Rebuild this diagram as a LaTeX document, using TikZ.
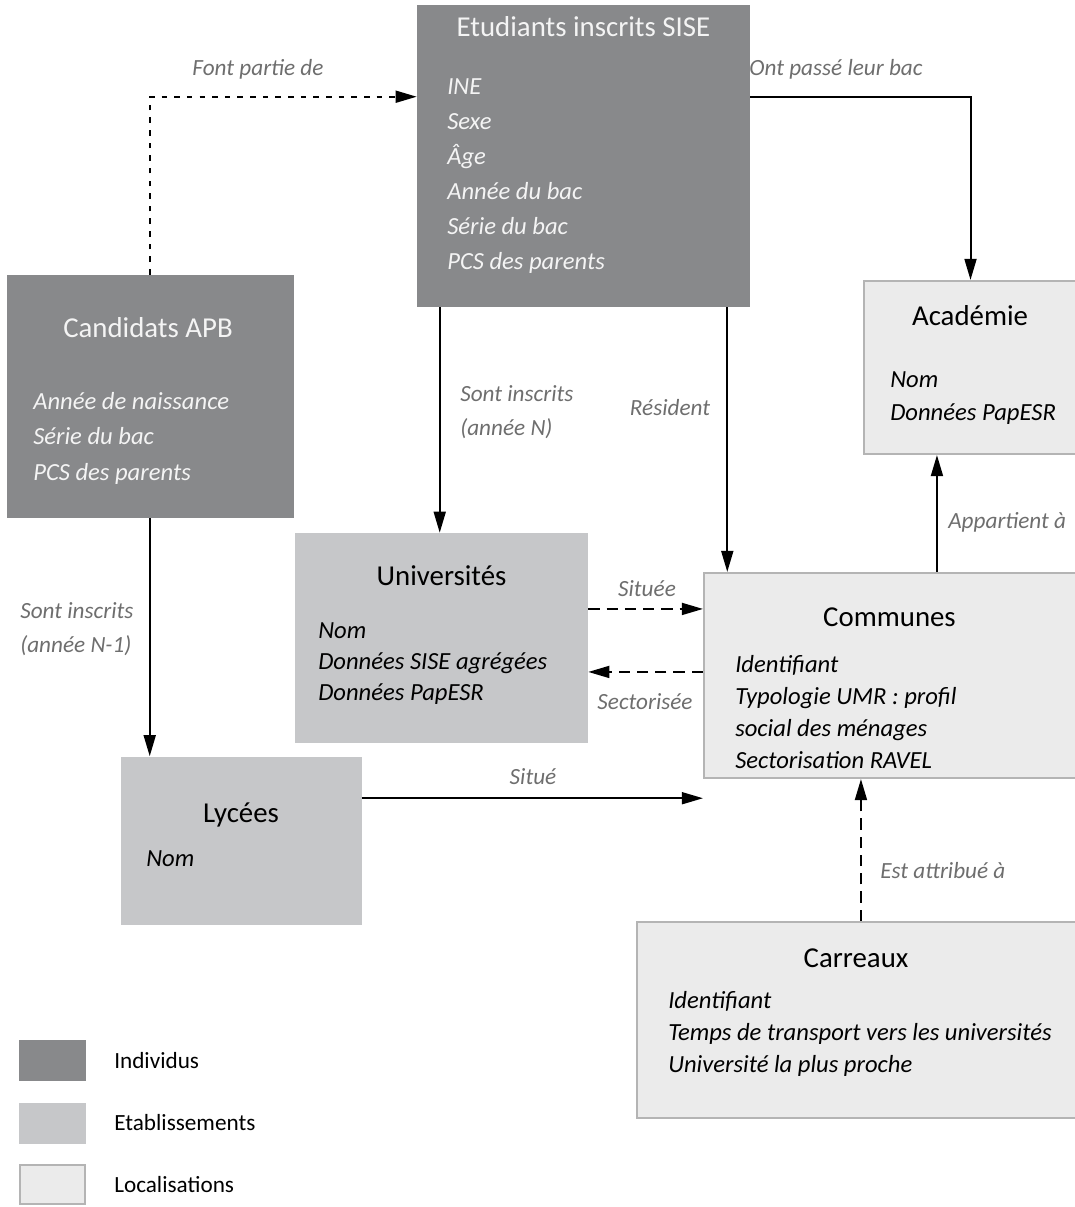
\documentclass[tikz,border=0pt]{standalone}
\usepackage{fontspec}
\setmainfont{Carlito}
\usetikzlibrary{arrows.meta,positioning,calc}
\definecolor{indiv}{HTML}{88898B}
\definecolor{etab}{HTML}{C6C7C9}
\definecolor{loc}{HTML}{EBEBEB}
\definecolor{locline}{HTML}{B4B4B4}
\definecolor{relgray}{HTML}{6E6E6E}
\definecolor{ontext}{HTML}{F4F4F4}
\tikzstyle{entity}=[rectangle,inner sep=0pt]
\tikzstyle{indivbox}=[entity,fill=indiv]
\tikzstyle{etabbox}=[entity,fill=etab]
\tikzstyle{locbox}=[entity,fill=loc,draw=locline,line width=1.5pt]
\tikzstyle{title}=[inner sep=0pt,anchor=base,font=\fontsize{20.5}{24}\selectfont]
\tikzstyle{attr}=[inner sep=0pt,anchor=base west,font=\fontsize{17.5}{22}\selectfont\itshape]
\tikzstyle{rel}=[inner sep=0pt,text=relgray,font=\fontsize{16.5}{24}\selectfont\itshape]
\tikzstyle{legtext}=[inner sep=0pt,anchor=west,font=\fontsize{16.5}{20}\selectfont]
\tikzstyle{link}=[line width=1.4pt,-{Triangle[length=15pt,width=8.5pt]}]
\tikzstyle{dlink}=[link,dash pattern=on 8pt off 5pt]
\tikzstyle{flink}=[link,dash pattern=on 4pt off 5pt]
\tikzset{boxdim/.style 2 args={minimum width=#1*0.025cm,minimum height=#2*0.025cm}}

\begin{document}
\begin{tikzpicture}[x=0.025cm,y=-0.025cm]
    \useasboundingbox (0,0) rectangle (1075,1207);

    % boxes
    \node [indivbox,boxdim={333}{302}] (sise) at (583.5,156) {};
    \node [indivbox,boxdim={287}{243}] (apb) at (150.5,396.5) {};
    \node [locbox,boxdim={213}{173}] (acad) at (970.5,367.5) {};
    \node [etabbox,boxdim={293}{210}] (univ) at (441.5,638) {};
    \node [locbox,boxdim={373}{205}] (comm) at (890.5,675.5) {};
    \node [etabbox,boxdim={241}{168}] (lyc) at (241,840.5) {};
    \node [locbox,boxdim={440}{196}] (carr) at (857,1020) {};

    % titles and attributes
    \node [title,text=ontext] (sise-title) at (583.5,37) {Etudiants inscrits SISE};
    \foreach \t [count=\i from 0] in {INE,Sexe,Âge,Année du bac,Série du bac,PCS des parents}
      \node [attr,text=ontext] (sise-\i) at (447,95+35*\i) {\t};

    \node [title,text=ontext] (apb-title) at (148,337) {Candidats APB};
    \foreach \t [count=\i from 0] in {Année de naissance,Série du bac,PCS des parents}
      \node [attr,text=ontext] (apb-\i) at (33,409+35.5*\i) {\t};

    \node [title] (acad-title) at (970,325) {Académie};
    \foreach \t [count=\i from 0] in {Nom,Données PapESR}
      \node [attr] (acad-\i) at (890,387+33*\i) {\t};

    \node [title] (univ-title) at (441.5,585) {Universités};
    \foreach \t [count=\i from 0] in {Nom,Données SISE agrégées,Données PapESR}
      \node [attr] (univ-\i) at (318,638+31*\i) {\t};

    \node [title] (comm-title) at (889.5,626) {Communes};
    \foreach \t [count=\i from 0] in {Identifiant,Typologie UMR : profil,social des ménages,Sectorisation RAVEL}
      \node [attr] (comm-\i) at (735,672+32*\i) {\t};

    \node [title] (lyc-title) at (241,822) {Lycées};
    \node [attr] (lyc-0) at (146,866) {Nom};

    \node [title] (carr-title) at (856,967) {Carreaux};
    \foreach \t [count=\i from 0] in {Identifiant,Temps de transport vers les universités,Université la plus proche}
      \node [attr] (carr-\i) at (668,1008+32*\i) {\t};

    % relations
    \draw [flink] ($(apb.north west)+(143,0)$) |- ($(sise.north west)+(0,92)$);
    \node [rel] (font-partie) at (258,69) {Font partie de};

    \draw [link] ($(sise.north east)+(0,92)$) -| (acad.north);
    \node [rel] (bac) at (836,69) {Ont passé leur bac};

    \draw [link] ($(sise.south west)+(23,0)$) coordinate (inscN) -- (inscN |- univ.north);
    \node [rel,align=left,anchor=west] (insc-n) at (460,412) {Sont inscrits\\(année N)};

    \draw [link] ($(sise.south east)+(-23,0)$) coordinate (resid) -- (resid |- comm.north);
    \node [rel] (resident) at (670,408) {Résident};

    \draw [link] ($(comm.north west)+(234,0)$) coordinate (appart) -- (appart |- acad.south);
    \node [rel,anchor=west] (appartient) at (948,522) {Appartient à};

    \coordinate (situee) at ($(comm.north west)+(0,37)$);
    \draw [dlink] (situee -| univ.east) -- (situee);
    \node [rel] (situee-lbl) at (647,589) {Située};

    \draw [dlink] ($(comm.north west)+(0,100)$) coordinate (sector) -- (sector -| univ.east);
    \node [rel] (sector-lbl) at (645,702) {Sectorisée};

    \draw [link] ($(lyc.north east)+(0,42)$) coordinate (situe) -- (situe -| comm.west);
    \node [rel] (situe-lbl) at (533,777) {Situé};

    \draw [link] ($(apb.south west)+(143,0)$) coordinate (inscN1) -- (inscN1 |- lyc.north);
    \node [rel,align=left,anchor=west] (insc-n1) at (20,629) {Sont inscrits\\(année N-1)};

    \draw [dlink] ($(carr.north west)+(225,0)$) coordinate (attrib) -- (attrib |- comm.south);
    \node [rel,anchor=west] (attrib-lbl) at (880,871) {Est attribué à};

    % legend
    \node [indivbox,boxdim={67}{41}] (leg-indiv) at (52.5,1060.5) {};
    \node [etabbox,boxdim={67}{41}] (leg-etab) at (52.5,1123.5) {};
    \node [locbox,boxdim={65}{39}] (leg-loc) at (52.5,1184.5) {};
    \node [legtext] (leg-indiv-txt) at (114,1061) {Individus};
    \node [legtext] (leg-etab-txt) at (114,1123) {Etablissements};
    \node [legtext] (leg-loc-txt) at (114,1185) {Localisations};
\end{tikzpicture}
\end{document}
